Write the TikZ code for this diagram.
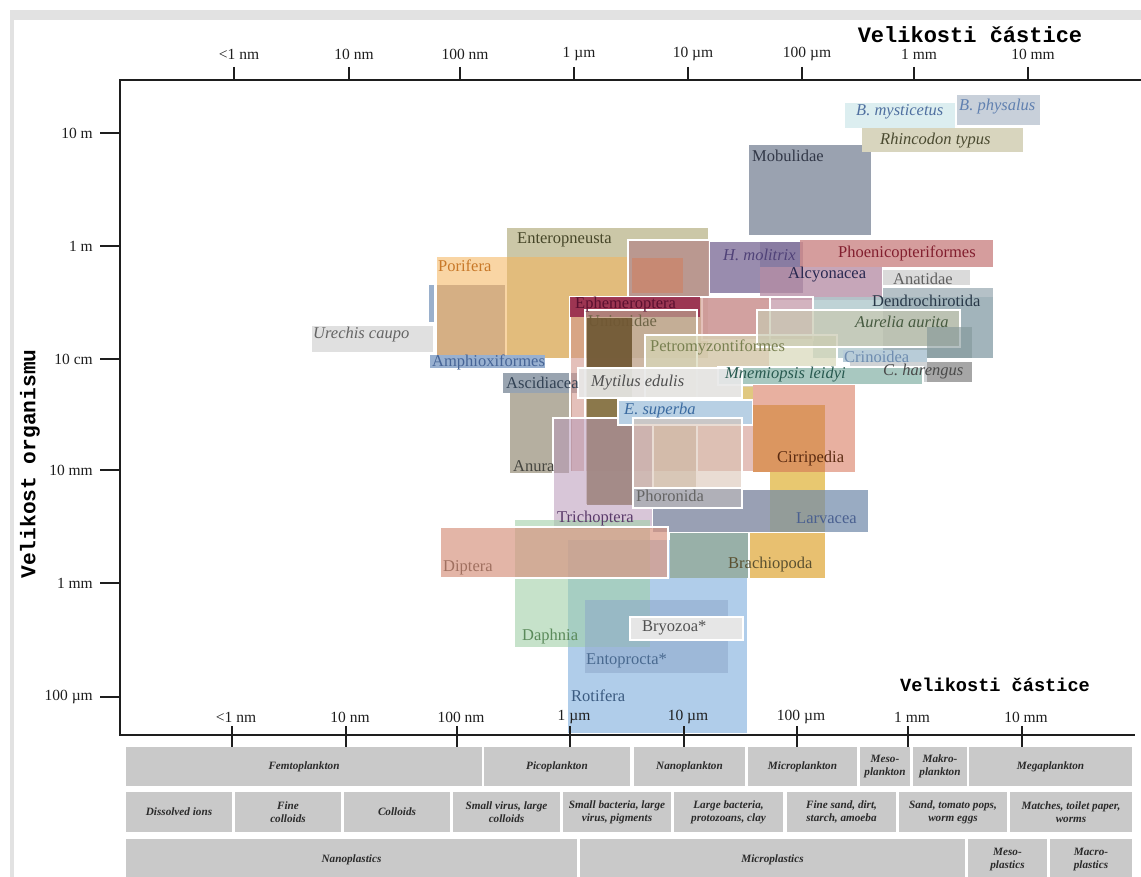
\documentclass[tikz,border=0pt]{standalone}
\usepackage{fontspec}
\setmainfont{Liberation Serif}
\setmonofont{Liberation Mono}
\definecolor{framegray}{HTML}{E2E2E2}
\definecolor{cellgray}{HTML}{C9C9C9}
\definecolor{celltxt}{HTML}{2A2A2A}
\definecolor{axcol}{HTML}{1E1E1E}
\tikzset{
  lab/.style={inner sep=0pt, anchor=west, font=\fontsize{16.5}{18}\selectfont},
  ilab/.style={inner sep=0pt, anchor=west, font=\fontsize{16.5}{18}\selectfont\itshape},
  wb/.style={draw=white, line width=1.4pt},
  celltext/.style={font=\fontsize{11.2}{13}\selectfont\bfseries\itshape, align=center, text=celltxt, inner sep=0pt},
  axisline/.style={line width=1.6pt, draw=axcol},
  ticklab/.style={font=\fontsize{15.5}{17}\selectfont, inner sep=0pt, text=axcol},
  axtitle/.style={font=\fontsize{22}{24}\selectfont\ttfamily\bfseries, inner sep=0pt, text=black},
}
\newcommand{\obox}[5]{\path[#1] (#2,#3) rectangle (#4,#5);}
\newcommand{\tcell}[6]{\fill[cellgray] (#2,#3) rectangle (#4,#5);
  \node[celltext] (#1) at ({(#2+#4)/2},{(#3+#5)/2}) {#6};}
\begin{document}
\begin{tikzpicture}[x=1pt,y=-1pt]
\useasboundingbox (0,0) rectangle (1141,877);
\fill[white] (0,0) rectangle (1141,877);
% frame of the scan
\fill[framegray] (10,10) rectangle (1141,20);
\fill[framegray] (10,10) rectangle (14,877);

% ---------------- organism boxes ----------------
\obox{fill={rgb,255:red,194;green,190;blue,152}, fill opacity=0.85}{507}{228}{708}{358}
\obox{fill={rgb,255:red,245;green,180;blue,90}, fill opacity=0.55}{437}{257}{628}{358}
\obox{fill={rgb,255:red,170;green,130;blue,95}, fill opacity=0.45}{437}{285}{505}{355}
\obox{fill={rgb,255:red,224;green,224;blue,224}}{312}{326}{433}{352}
\obox{fill={rgb,255:red,154;green,176;blue,204}}{429}{285}{434}{322}
\obox{fill={rgb,255:red,152;green,176;blue,208}}{430}{355}{545}{368}
\obox{fill={rgb,255:red,143;green,155;blue,168}, fill opacity=0.9}{503}{373}{577}{393}
\obox{fill={rgb,255:red,181;green,175;blue,160}}{510}{393}{572}{473}
% top right large animals
\obox{fill={rgb,255:red,154;green,162;blue,176}}{749}{145}{871}{235}
\obox{fill={rgb,255:red,220;green,238;blue,240}}{845}{103}{955}{128}
\obox{fill={rgb,255:red,200;green,208;blue,218}}{957}{95}{1040}{125}
\obox{fill={rgb,255:red,216;green,213;blue,190}}{862}{128}{1023}{152}
% center upper
\obox{wb, fill={rgb,255:red,184;green,144;blue,140}, fill opacity=0.85}{628}{240}{710}{297}
\obox{fill={rgb,255:red,208;green,128;blue,96}, fill opacity=0.6}{632}{258}{683}{293}
\obox{fill={rgb,255:red,136;green,120;blue,160}, fill opacity=0.85}{710}{242}{803}{293}
\obox{fill={rgb,255:red,110;green,95;blue,140}, fill opacity=0.35}{760}{242}{803}{293}
\obox{fill={rgb,255:red,206;green,140;blue,140}, fill opacity=0.85}{800}{240}{993}{267}
\obox{fill={rgb,255:red,184;green,144;blue,168}, fill opacity=0.8}{760}{267}{882}{300}
\obox{fill={rgb,255:red,218;green,218;blue,218}}{883}{270}{970}{285}
\obox{fill={rgb,255:red,176;green,200;blue,204}, fill opacity=0.8}{813}{297}{993}{358}
\obox{fill={rgb,255:red,150;green,168;blue,176}, fill opacity=0.7}{883}{288}{993}{358}
\obox{wb, fill={rgb,255:red,200;green,160;blue,176}, fill opacity=0.8}{702}{297}{813}{340}
% Ephemeroptera and central stack
\obox{wb, fill={rgb,255:red,210;green,150;blue,140}, fill opacity=0.6}{570}{297}{770}{472}
\obox{fill={rgb,255:red,154;green,48;blue,80}, fill opacity=0.95}{570}{297}{700}{317}
\obox{wb, fill={rgb,255:red,190;green,178;blue,150}, fill opacity=0.6}{585}{310}{697}{505}
\node[lab, text={rgb,255:red,110;green,100;blue,70}] (unio) at (588,321) {Unionidae};
\obox{fill={rgb,255:red,128;green,110;blue,60}, fill opacity=0.85}{587}{318}{632}{505}
\obox{fill={rgb,255:red,100;green,70;blue,45}, fill opacity=0.5}{587}{318}{632}{368}
\obox{wb, fill={rgb,255:red,184;green,152;blue,184}, fill opacity=0.55}{553}{418}{653}{530}
\obox{wb, fill={rgb,255:red,216;green,216;blue,184}, fill opacity=0.7}{645}{335}{837}{405}
\obox{wb, fill={rgb,255:red,200;green,200;blue,176}, fill opacity=0.7}{757}{310}{960}{347}
\obox{fill={rgb,255:red,130;green,150;blue,152}, fill opacity=0.6}{927}{327}{972}{358}
\obox{fill={rgb,255:red,184;green,204;blue,216}}{843}{350}{927}{362}
\obox{fill={rgb,255:red,200;green,204;blue,206}, fill opacity=0.85}{850}{362}{927}{382}
\obox{fill={rgb,255:red,166;green,166;blue,166}}{927}{362}{972}{382}
\obox{fill={rgb,255:red,224;green,200;blue,128}}{743}{387}{835}{405}
\obox{wb, fill={rgb,255:red,168;green,200;blue,192}}{718}{367}{923}{385}
\obox{wb, fill={rgb,255:red,232;green,232;blue,232}, fill opacity=0.9}{578}{368}{742}{398}
\obox{wb, fill={rgb,255:red,184;green,208;blue,228}}{618}{400}{753}{425}
\obox{wb, fill={rgb,255:red,216;green,192;blue,176}, fill opacity=0.55}{633}{418}{742}{508}
% Cirripedia
\obox{fill={rgb,255:red,232;green,176;blue,160}}{753}{385}{855}{472}
\obox{fill={rgb,255:red,216;green,144;blue,80}, fill opacity=0.8}{753}{405}{825}{472}
\obox{fill={rgb,255:red,232;green,200;blue,112}}{770}{472}{825}{490}
% lower
\obox{fill={rgb,255:red,168;green,200;blue,232}, fill opacity=0.9}{568}{540}{747}{733}
\obox{fill={rgb,255:red,136;green,144;blue,168}, fill opacity=0.85}{653}{490}{868}{532}
\obox{fill={rgb,255:red,154;green,176;blue,200}, fill opacity=0.7}{825}{490}{868}{532}
\obox{fill={rgb,255:red,144;green,154;blue,136}, fill opacity=0.6}{770}{490}{825}{532}
\obox{wb, fill={rgb,255:red,176;green,176;blue,184}}{633}{488}{742}{508}
\obox{fill={rgb,255:red,160;green,208;blue,168}, fill opacity=0.6}{515}{520}{650}{647}
\obox{wb, fill={rgb,255:red,216;green,150;blue,130}, fill opacity=0.7}{440}{527}{668}{578}
\obox{fill={rgb,255:red,152;green,176;blue,168}}{670}{533}{748}{578}
\obox{fill={rgb,255:red,232;green,192;blue,112}}{750}{533}{825}{578}
\obox{fill={rgb,255:red,140;green,165;blue,200}, fill opacity=0.5}{585}{600}{728}{673}
\obox{wb, fill={rgb,255:red,230;green,230;blue,230}}{630}{617}{743}{640}

% ---------------- labels ----------------
\node[ilab, text={rgb,255:red,80;green,112;blue,160}] (bmys) at (856,112) {B. mysticetus};
\node[ilab, text={rgb,255:red,96;green,128;blue,176}] (bphy) at (959,107) {B. physalus};
\node[ilab, text={rgb,255:red,74;green,74;blue,48}] (rhin) at (880,141) {Rhincodon typus};
\node[lab, text={rgb,255:red,50;green,56;blue,72}] (mobu) at (752,156) {Mobulidae};
\node[lab, text={rgb,255:red,70;green,70;blue,40}] (ente) at (517,240) {Enteropneusta};
\node[lab, text={rgb,255:red,200;green,120;blue,40}] (pori) at (438,266) {Porifera};
\node[ilab, text={rgb,255:red,100;green,100;blue,100}] (urec) at (313,335) {Urechis caupo};
\node[lab, text={rgb,255:red,70;green,100;blue,150}] (amph) at (432,362) {Amphioxiformes};
\node[lab, text={rgb,255:red,50;green,66;blue,84}] (asci) at (506,383) {Ascidiacea};
\node[lab, text={rgb,255:red,70;green,70;blue,64}] (anur) at (513,466) {Anura};
\node[ilab, text={rgb,255:red,80;green,66;blue,120}] (hmol) at (723,255) {H. molitrix};
\node[lab, text={rgb,255:red,130;green,30;blue,46}] (phoe) at (838,253) {Phoenicopteriformes};
\node[lab, text={rgb,255:red,40;green,40;blue,80}] (alcy) at (788,275) {Alcyonacea};
\node[lab, text={rgb,255:red,96;green,96;blue,96}] (anat) at (893,279) {Anatidae};
\node[lab, text={rgb,255:red,40;green,56;blue,72}] (dend) at (872,301) {Dendrochirotida};
\node[ilab, text={rgb,255:red,70;green,90;blue,64}] (aure) at (855,322) {Aurelia aurita};
\node[lab, text={rgb,255:red,110;green,140;blue,176}] (crin) at (844,357) {Crinoidea};
\node[ilab, text={rgb,255:red,74;green,74;blue,74}] (char) at (883,372) {C. harengus};
\node[ilab, text={rgb,255:red,40;green,90;blue,80}] (mnem) at (725,375) {Mnemiopsis leidyi};
\node[lab, text={rgb,255:red,90;green,16;blue,48}] (ephe) at (575,305) {Ephemeroptera};
\node[lab, text={rgb,255:red,120;green,128;blue,80}] (petr) at (650,347) {Petromyzontiformes};
\node[ilab, text={rgb,255:red,80;green,80;blue,80}] (myti) at (591,383) {Mytilus edulis};
\node[ilab, text={rgb,255:red,58;green,106;blue,160}] (esup) at (624,411) {E. superba};
\node[lab, text={rgb,255:red,90;green,42;blue,16}] (cirr) at (777,459) {Cirripedia};
\node[lab, text={rgb,255:red,100;green,100;blue,100}] (phor) at (636,496) {Phoronida};
\node[lab, text={rgb,255:red,90;green,58;blue,106}] (tric) at (557,519) {Trichoptera};
\node[lab, text={rgb,255:red,74;green,96;blue,144}] (larv) at (796,518) {Larvacea};
\node[lab, text={rgb,255:red,160;green,112;blue,96}] (dipt) at (443,568) {Diptera};
\node[lab, text={rgb,255:red,90;green,80;blue,48}] (brac) at (728,565) {Brachiopoda};
\node[lab, text={rgb,255:red,80;green,80;blue,80}] (bryo) at (642,628) {Bryozoa*};
\node[lab, text={rgb,255:red,90;green,138;blue,90}] (daph) at (522,637) {Daphnia};
\node[lab, text={rgb,255:red,74;green,106;blue,144}] (ento) at (586,661) {Entoprocta*};
\node[lab, text={rgb,255:red,58;green,90;blue,128}] (roti) at (571,696) {Rotifera};

% ---------------- axes ----------------
\draw[axisline] (1141,80) -- (120,80) -- (120,735) -- (1135,735);
\foreach \x/\t [count=\i] in {234/{<1 nm},349/{10 nm},460/{100 nm},574/{1 µm},688/{10 µm},802/{100 µm},914/{1 mm},1028/{10 mm}}{
  \draw[axisline] (\x,67) -- (\x,80);
  \node[ticklab] (top\i) at (\x+5,54) {\t};
}
\foreach \x/\t [count=\i] in {232/{<1 nm},346/{10 nm},457/{100 nm},570/{1 µm},684/{10 µm},797/{100 µm},908/{1 mm},1022/{10 mm}}{
  \draw[axisline] (\x,726) -- (\x,748);
  \node[ticklab] (bot\i) at (\x+4,717) {\t};
}
\foreach \y/\t [count=\i] in {133/{10 m},246/{1 m},359/{10 cm},470/{10 mm},583/{1 mm},697/{100 µm}}{
  \draw[axisline] (100,\y) -- (120,\y);
  \node[ticklab, anchor=east] (lft\i) at (93,\y) {\t};
}
\node[axtitle] (ttop) at (970,35) {Velikosti částice};
\node[axtitle, font=\fontsize{18.6}{20}\selectfont\ttfamily\bfseries] (tbot) at (995,685) {Velikosti částice};
\node[axtitle, rotate=90, font=\fontsize{21.2}{23}\selectfont\ttfamily\bfseries] (tleft) at (30,464) {Velikost organismu};

% ---------------- bottom tables ----------------
\tcell{c11}{126}{747}{482}{786}{Femtoplankton}
\tcell{c12}{484}{747}{630}{786}{Picoplankton}
\tcell{c13}{634}{747}{745}{786}{Nanoplankton}
\tcell{c14}{748}{747}{857}{786}{Microplankton}
\tcell{c15}{860}{747}{910}{786}{Meso-\\plankton}
\tcell{c16}{913}{747}{967}{786}{Makro-\\plankton}
\tcell{c17}{969}{747}{1132}{786}{Megaplankton}
\tcell{c21}{126}{792}{232}{832}{Dissolved ions}
\tcell{c22}{235}{792}{341}{832}{Fine\\colloids}
\tcell{c23}{344}{792}{450}{832}{Colloids}
\tcell{c24}{453}{792}{560}{832}{Small virus, large\\colloids}
\tcell{c25}{563}{792}{671}{832}{Small bacteria, large\\virus, pigments}
\tcell{c26}{674}{792}{783}{832}{Large bacteria,\\protozoans, clay}
\tcell{c27}{787}{792}{896}{832}{Fine sand, dirt,\\starch, amoeba}
\tcell{c28}{899}{792}{1007}{832}{Sand, tomato pops,\\worm eggs}
\tcell{c29}{1010}{792}{1132}{832}{Matches, toilet paper,\\worms}
\tcell{c31}{126}{839}{577}{880}{Nanoplastics}
\tcell{c32}{580}{839}{965}{880}{Microplastics}
\tcell{c33}{968}{839}{1047}{880}{Meso-\\plastics}
\tcell{c34}{1050}{839}{1132}{880}{Macro-\\plastics}
\end{tikzpicture}
\end{document}
